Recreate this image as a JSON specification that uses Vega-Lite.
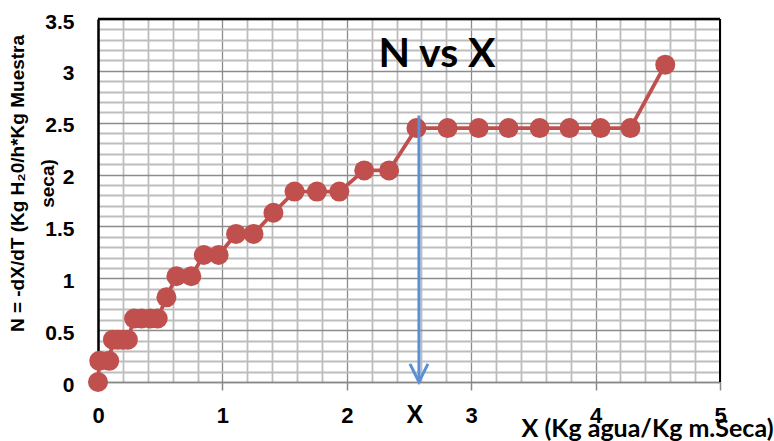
{
  "$schema": "https://vega.github.io/schema/vega-lite/v6.json",
  "width": 622,
  "height": 363,
  "autosize": {"type": "none"},
  "padding": {"left": 98, "top": 19, "right": 54, "bottom": 59},
  "background": "white",
  "title": {
    "text": "N vs X",
    "font": "Lato",
    "fontSize": 41,
    "fontWeight": "bold",
    "color": "#000000",
    "anchor": "middle",
    "frame": "group",
    "baseline": "alphabetic",
    "offset": 0,
    "dx": 28,
    "dy": 97
  },
  "datasets": {
    "main": [
      {"X": 0.00, "N": 0.0},
      {"X": 0.01, "N": 0.204},
      {"X": 0.09, "N": 0.204},
      {"X": 0.12, "N": 0.408},
      {"X": 0.16, "N": 0.408},
      {"X": 0.20, "N": 0.408},
      {"X": 0.24, "N": 0.408},
      {"X": 0.29, "N": 0.612},
      {"X": 0.35, "N": 0.612},
      {"X": 0.42, "N": 0.612},
      {"X": 0.48, "N": 0.612},
      {"X": 0.55, "N": 0.816},
      {"X": 0.63, "N": 1.02},
      {"X": 0.75, "N": 1.02},
      {"X": 0.85, "N": 1.224},
      {"X": 0.97, "N": 1.224},
      {"X": 1.11, "N": 1.428},
      {"X": 1.25, "N": 1.428},
      {"X": 1.41, "N": 1.632},
      {"X": 1.58, "N": 1.836},
      {"X": 1.76, "N": 1.836},
      {"X": 1.94, "N": 1.836},
      {"X": 2.14, "N": 2.04},
      {"X": 2.34, "N": 2.04},
      {"X": 2.56, "N": 2.448},
      {"X": 2.81, "N": 2.448},
      {"X": 3.06, "N": 2.448},
      {"X": 3.30, "N": 2.448},
      {"X": 3.55, "N": 2.448},
      {"X": 3.79, "N": 2.448},
      {"X": 4.04, "N": 2.448},
      {"X": 4.28, "N": 2.448},
      {"X": 4.56, "N": 3.06}
    ],
    "marker": [
      {"X": 2.58, "N": 2.57, "N2": 0.02, "label": "X"}
    ]
  },
  "layer": [
    {
      "data": {"name": "main"},
      "mark": {"type": "line", "color": "#C0504D", "strokeWidth": 3.8},
      "encoding": {
        "x": {
          "field": "X",
          "type": "quantitative",
          "scale": {"domain": [0, 5], "nice": false, "zero": false},
          "axis": {
            "title": "X (Kg agua/Kg m.Seca)",
            "titleFont": "Lato",
            "titleFontSize": 25,
            "titleFontWeight": "bold",
            "titleColor": "#000000",
            "titleAnchor": "end",
            "titleAlign": "right",
            "titleBaseline": "alphabetic",
            "titleX": 675,
            "titleY": 54,
            "tickCount": 100,
            "values": [0, 0.2, 0.4, 0.6, 0.8, 1, 1.2, 1.4, 1.6, 1.8, 2, 2.2, 2.4, 2.6, 2.8, 3, 3.2, 3.4, 3.6, 3.8, 4, 4.2, 4.4, 4.6, 4.8, 5],
            "labelExpr": "abs(datum.value - round(datum.value)) < 0.001 ? '' + round(datum.value) : ''",
            "labelFont": "Liberation Sans",
            "labelFontSize": 22,
            "labelFontWeight": "bold",
            "labelColor": "#000000",
            "labelPadding": 15,
            "labelOverlap": false,
            "labelFlush": false,
            "labelBound": false,
            "tickSize": 8,
            "tickWidth": 1.5,
            "tickColor": {"condition": {"test": "abs(datum.value - round(datum.value)) < 0.001", "value": "#888888"}, "value": "transparent"},
            "domainColor": "#888888",
            "domainWidth": 1.5,
            "grid": true,
            "gridColor": {"condition": {"test": "abs(datum.value - round(datum.value)) < 0.001", "value": "#8c8c8c"}, "value": "#bdbdbd"},
            "gridWidth": {"condition": {"test": "abs(datum.value - round(datum.value)) < 0.001", "value": 1.3}, "value": 1.8},
            "gridOpacity": 1
          }
        },
        "y": {
          "field": "N",
          "type": "quantitative",
          "scale": {"domain": [0, 3.5], "nice": false, "zero": false},
          "axis": {
            "title": ["N = -dX/dT (Kg H₂0/h*Kg Muestra", "seca)"],
            "titleFont": "Liberation Sans",
            "titleFontSize": 19,
            "titleFontWeight": "bold",
            "titleColor": "#000000",
            "titleAngle": -90,
            "titleAlign": "center",
            "titleBaseline": "middle",
            "titleLineHeight": 30,
            "titleX": -81,
            "titleY": 164,
            "tickCount": 100,
            "values": [0, 0.1, 0.2, 0.3, 0.4, 0.5, 0.6, 0.7, 0.8, 0.9, 1, 1.1, 1.2, 1.3, 1.4, 1.5, 1.6, 1.7, 1.8, 1.9, 2, 2.1, 2.2, 2.3, 2.4, 2.5, 2.6, 2.7, 2.8, 2.9, 3, 3.1, 3.2, 3.3, 3.4, 3.5],
            "labelExpr": "abs(datum.value * 2 - round(datum.value * 2)) < 0.001 ? '' + round(datum.value * 10) / 10 : ''",
            "labelFont": "Liberation Sans",
            "labelFontSize": 21,
            "labelFontWeight": "bold",
            "labelColor": "#000000",
            "labelPadding": 24,
            "labelOffset": 3,
            "labelOverlap": false,
            "labelFlush": false,
            "labelBound": false,
            "ticks": false,
            "domainColor": "#000000",
            "domainWidth": 2.5,
            "grid": true,
            "gridColor": {"condition": {"test": "abs(datum.value * 2 - round(datum.value * 2)) < 0.001", "value": "#8c8c8c"}, "value": "#bdbdbd"},
            "gridWidth": {"condition": {"test": "abs(datum.value * 2 - round(datum.value * 2)) < 0.001", "value": 1.3}, "value": 1.8},
            "gridOpacity": 1
          }
        }
      }
    },
    {
      "data": {"name": "main"},
      "mark": {"type": "circle", "color": "#C0504D", "opacity": 1, "size": 400},
      "encoding": {
        "x": {"field": "X", "type": "quantitative"},
        "y": {"field": "N", "type": "quantitative"}
      }
    },
    {
      "data": {"values": [{"edge": 3.5}]},
      "mark": {"type": "rule", "color": "#000000", "strokeWidth": 2.5},
      "encoding": {"y": {"field": "edge", "type": "quantitative"}}
    },
    {
      "data": {"values": [{"edge": 5}]},
      "mark": {"type": "rule", "color": "#000000", "strokeWidth": 2},
      "encoding": {"x": {"field": "edge", "type": "quantitative"}}
    },
    {
      "data": {"name": "marker"},
      "mark": {"type": "rule", "color": "#5B8FD6", "strokeWidth": 3},
      "encoding": {
        "x": {"field": "X", "type": "quantitative"},
        "y": {"field": "N", "type": "quantitative"},
        "y2": {"field": "N2"}
      }
    },
    {
      "data": {"name": "marker"},
      "mark": {"type": "point", "shape": "M-1,-2L0,0L1,-2", "filled": false, "stroke": "#5B8FD6", "strokeWidth": 3, "size": 324, "opacity": 1, "yOffset": 2},
      "encoding": {
        "x": {"field": "X", "type": "quantitative"},
        "y": {"field": "N2", "type": "quantitative"}
      }
    },
    {
      "data": {"name": "marker"},
      "mark": {"type": "text", "font": "Liberation Sans", "fontSize": 25, "fontWeight": "bold", "color": "#000000", "baseline": "middle", "align": "center", "dx": -4, "dy": 35},
      "encoding": {
        "x": {"field": "X", "type": "quantitative"},
        "y": {"field": "N2", "type": "quantitative"},
        "text": {"field": "label"}
      }
    }
  ],
  "config": {
    "view": {"stroke": null}
  }
}
